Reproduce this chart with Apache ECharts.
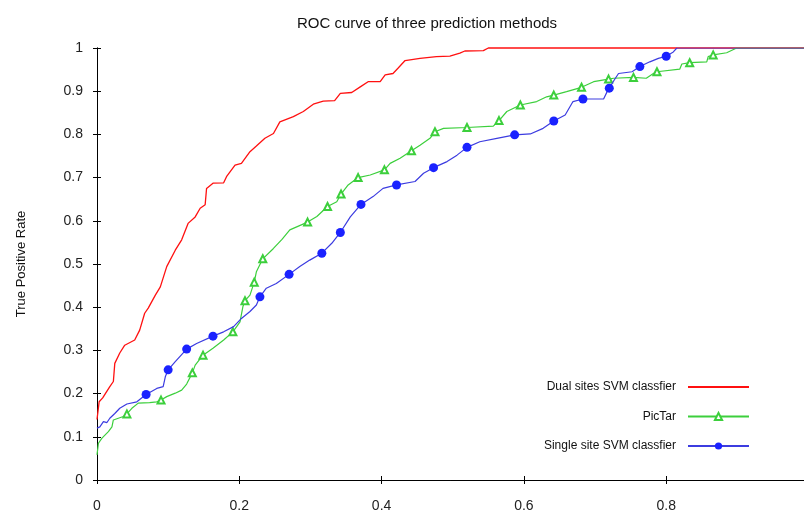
<!DOCTYPE html>
<html>
<head>
<meta charset="utf-8">
<script src="https://cdn.jsdelivr.net/npm/echarts@6/dist/echarts.min.js"></script>
<style>
html,body{margin:0;padding:0;background:#fff;overflow:hidden;}
#chart{width:804px;height:513px;}
</style>
</head>
<body>
<div id="chart"></div>
<script>
const chartTitle = 'ROC curve of three prediction methods';
const yAxisName = 'True Positive Rate';
const seriesNames = ['Dual sites SVM classfier', 'PicTar', 'Single site SVM classfier'];
const xTicks = [0, 0.2, 0.4, 0.6, 0.8, 1];
const yTicks = [0, 0.1, 0.2, 0.3, 0.4, 0.5, 0.6, 0.7, 0.8, 0.9, 1];

// Dual sites SVM classfier (red), [FPR, TPR]
const dualSitesCurve = [[0,0.14],[0.003,0.181],[0.008,0.19],[0.018,0.216],[0.023,0.228],[0.025,0.27],[0.032,0.294],[0.039,0.312],[0.053,0.324],[0.06,0.347],[0.067,0.386],[0.072,0.398],[0.082,0.428],[0.089,0.447],[0.098,0.494],[0.11,0.532],[0.119,0.556],[0.128,0.594],[0.138,0.609],[0.145,0.629],[0.152,0.637],[0.154,0.675],[0.163,0.687],[0.178,0.688],[0.182,0.702],[0.194,0.729],[0.203,0.733],[0.215,0.76],[0.224,0.773],[0.236,0.791],[0.248,0.802],[0.257,0.829],[0.276,0.841],[0.29,0.853],[0.304,0.87],[0.318,0.877],[0.334,0.878],[0.342,0.895],[0.358,0.897],[0.37,0.91],[0.381,0.922],[0.398,0.922],[0.405,0.938],[0.416,0.941],[0.423,0.953],[0.433,0.971],[0.454,0.976],[0.477,0.98],[0.496,0.981],[0.51,0.988],[0.517,0.993],[0.543,0.994],[0.55,1],[1,1]];

// PicTar (green)
const picTarCurve = [[0,0.058],[0.002,0.085],[0.007,0.097],[0.016,0.112],[0.021,0.123],[0.023,0.139],[0.03,0.143],[0.037,0.147],[0.049,0.166],[0.058,0.178],[0.074,0.179],[0.084,0.181],[0.098,0.193],[0.11,0.201],[0.119,0.208],[0.126,0.222],[0.138,0.266],[0.163,0.305],[0.178,0.324],[0.201,0.366],[0.205,0.401],[0.215,0.428],[0.224,0.482],[0.248,0.536],[0.26,0.557],[0.271,0.579],[0.309,0.61],[0.337,0.644],[0.353,0.683],[0.384,0.706],[0.412,0.733],[0.426,0.745],[0.454,0.775],[0.468,0.791],[0.487,0.814],[0.557,0.819],[0.576,0.853],[0.618,0.876],[0.632,0.887],[0.66,0.899],[0.698,0.922],[0.726,0.93],[0.772,0.93],[0.782,0.941],[0.819,0.951],[0.822,0.963],[0.857,0.968],[0.859,0.98],[0.885,0.989],[0.899,1],[1,1]];
const picTarMarkers = [[0.042,0.153],[0.09,0.185],[0.134,0.248],[0.149,0.289],[0.191,0.343],[0.208,0.415],[0.221,0.458],[0.233,0.512],[0.296,0.597],[0.324,0.633],[0.343,0.662],[0.367,0.7],[0.404,0.718],[0.442,0.762],[0.475,0.806],[0.52,0.816],[0.565,0.832],[0.595,0.868],[0.642,0.891],[0.681,0.909],[0.719,0.928],[0.754,0.932],[0.787,0.945],[0.833,0.966],[0.866,0.984]];

// Single site SVM classfier (blue)
const singleSiteCurve = [[0,0.12],[0.004,0.123],[0.009,0.135],[0.014,0.133],[0.018,0.143],[0.025,0.154],[0.032,0.166],[0.042,0.176],[0.056,0.181],[0.084,0.212],[0.093,0.216],[0.096,0.239],[0.11,0.274],[0.14,0.316],[0.178,0.343],[0.192,0.355],[0.203,0.374],[0.215,0.39],[0.224,0.405],[0.238,0.444],[0.252,0.455],[0.285,0.494],[0.299,0.509],[0.33,0.548],[0.356,0.609],[0.388,0.656],[0.402,0.675],[0.447,0.691],[0.459,0.71],[0.492,0.737],[0.506,0.752],[0.538,0.783],[0.562,0.791],[0.609,0.801],[0.627,0.814],[0.658,0.845],[0.669,0.876],[0.712,0.882],[0.717,0.899],[0.727,0.926],[0.733,0.941],[0.752,0.945],[0.777,0.968],[0.789,0.976],[0.81,0.991],[0.815,1],[1,1]];
const singleSiteMarkers = [[0.069,0.198],[0.1,0.255],[0.126,0.303],[0.163,0.333],[0.229,0.424],[0.27,0.476],[0.316,0.525],[0.342,0.573],[0.371,0.638],[0.421,0.683],[0.473,0.723],[0.52,0.77],[0.587,0.799],[0.642,0.831],[0.683,0.882],[0.72,0.907],[0.763,0.957],[0.8,0.981]];

function mergeCurve(curve, markers) {
  const pts = curve.map(p => ({ value: p, symbol: 'none' }))
    .concat(markers.map(p => ({ value: p })));
  pts.sort((a, b) => a.value[0] - b.value[0]);
  return pts;
}

const FONT = 'Liberation Sans, Arial, sans-serif';
const chart = echarts.init(document.getElementById('chart'), null, { renderer: 'canvas' });

const axisCommon = {
  type: 'value', min: 0, max: 1,
  axisLine: { show: true, lineStyle: { color: '#000', width: 1 } },
  axisTick: { show: true, inside: true, length: 4, lineStyle: { color: '#000' } },
  splitLine: { show: false }
};

chart.setOption({
  animation: false,
  backgroundColor: '#fff',
  title: {
    text: chartTitle, left: 292, top: 11,
    textStyle: { fontFamily: FONT, fontSize: 15, fontWeight: 'normal', color: '#111' }
  },
  grid: { left: 97, top: 48, width: 711.5, height: 432, containLabel: false, outerBoundsMode: 'none' },
  legend: {
    orient: 'vertical', align: 'right', right: 54, top: 381, padding: 0,
    itemWidth: 61, itemHeight: 9, itemGap: 17.5,
    textStyle: { fontFamily: FONT, fontSize: 12, color: '#111', padding: [0, 7, 0, 0] },
    data: seriesNames
  },
  xAxis: [
    Object.assign({}, axisCommon, {
      position: 'bottom', interval: 0.2,
      axisLabel: { show: true, margin: 19, fontFamily: FONT, fontSize: 14, color: '#222',
        formatter: v => xTicks.indexOf(v) >= 0 ? String(v) : '' }
    }),
    Object.assign({}, axisCommon, { position: 'top', interval: 0.2, axisLabel: { show: false } })
  ],
  yAxis: [
    Object.assign({}, axisCommon, {
      position: 'left', interval: 0.1,
      name: yAxisName, nameLocation: 'middle', nameRotate: 90, nameGap: 69,
      nameTextStyle: { fontFamily: FONT, fontSize: 13, color: '#111' },
      axisLabel: { show: true, margin: 14, fontFamily: FONT, fontSize: 14, color: '#222',
        formatter: v => { const t = yTicks.find(k => Math.abs(k - v) < 1e-9); return t === undefined ? '' : String(t); } }
    }),
    Object.assign({}, axisCommon, { position: 'right', interval: 0.1, axisLabel: { show: false } })
  ],
  series: [
    {
      name: seriesNames[0], type: 'line', xAxisIndex: 0, yAxisIndex: 0,
      data: dualSitesCurve, symbol: 'circle', showSymbol: false, clip: false,
      lineStyle: { color: '#ff1010', width: 1.3 },
      itemStyle: { color: 'rgba(0,0,0,0)' },
      z: 3
    },
    {
      name: seriesNames[1], type: 'line', xAxisIndex: 0, yAxisIndex: 0,
      data: mergeCurve(picTarCurve, picTarMarkers),
      symbol: 'emptyTriangle', symbolSize: 7, showSymbol: true, showAllSymbol: true,
      lineStyle: { color: '#3ccf3c', width: 1.2 },
      itemStyle: { color: '#3ccf3c', borderColor: '#3ccf3c', borderWidth: 1.2 },
      z: 4
    },
    {
      name: seriesNames[2], type: 'line', xAxisIndex: 0, yAxisIndex: 0,
      data: mergeCurve(singleSiteCurve, singleSiteMarkers),
      symbol: 'circle', symbolSize: 9, showSymbol: true, showAllSymbol: true,
      lineStyle: { color: '#3c3ce0', width: 1.2 },
      itemStyle: { color: '#1a22ff', borderWidth: 0 },
      z: 5
    }
  ]
});
</script>
</body>
</html>
